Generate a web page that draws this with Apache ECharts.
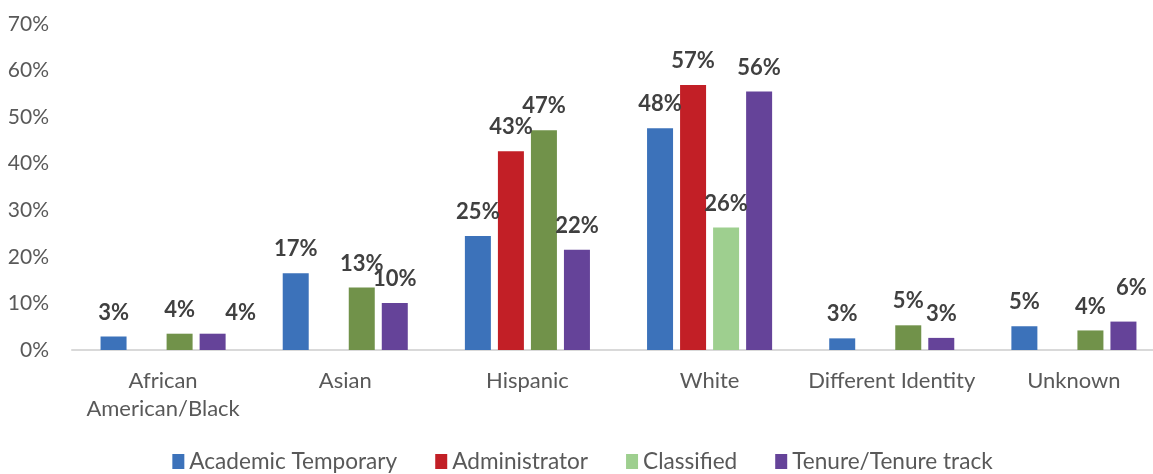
<!DOCTYPE html>
<html>
<head>
<meta charset="utf-8">
<script src="https://cdn.jsdelivr.net/npm/echarts@6/dist/echarts.min.js"></script>
<style>
  html, body { margin: 0; padding: 0; background: #fff; overflow: hidden; }
  #chart { width: 1165px; height: 474px; }
</style>
</head>
<body>
<div id="chart"></div>
<script>
// Share of each employee group by race/ethnicity (percent)
const categories = ['African\nAmerican/Black', 'Asian', 'Hispanic', 'White', 'Different Identity', 'Unknown'];
const academicTemporary = [2.9, 16.5, 24.5, 47.6, 2.5, 5.1];
const administrator = [null, null, 42.7, 56.9, null, null];
const classified = [3.5, 13.4, 47.2, 26.3, 5.3, 4.2];
const tenureTrack = [3.5, 10.1, 21.5, 55.5, 2.6, 6.1];
const yTicks = [0, 10, 20, 30, 40, 50, 60, 70];

const COLORS = {
  academic: '#3C72BA',
  admin: '#C21F26',
  classifiedLight: '#9ECF8F',
  classifiedDark: '#71924A',
  tenure: '#654399'
};

const FONT = 'Lato, "Open Sans", sans-serif';

function baseLabel() {
  return {
    show: true,
    position: 'top',
    distance: 13,
    fontFamily: FONT,
    fontSize: 22,
    fontWeight: 'bold',
    color: '#404040',
    formatter: p => Math.round(p.value) + '%'
  };
}

// Manually nudged label positions (category index -> [dx, dy])
const tenureLabelNudge = { 0: [28, 3], 5: [8, -10] };

function buildData(values, opts) {
  return values.map((v, i) => {
    const item = { value: v };
    if (opts && opts.colorAt) item.itemStyle = { color: opts.colorAt(i) };
    if (opts && opts.nudge && opts.nudge[i]) item.label = { offset: opts.nudge[i] };
    return item;
  });
}

const chart = echarts.init(document.getElementById('chart'), null, { renderer: 'canvas' });

chart.setOption({
  animation: false,
  backgroundColor: '#ffffff',
  grid: { left: 72, right: 0, top: 24, bottom: 124, containLabel: false },
  legend: {
    bottom: -4,
    left: 'center',
    itemWidth: 12,
    itemHeight: 15,
    itemGap: 38,
    icon: 'rect',
    textStyle: {
      fontFamily: FONT,
      fontSize: 22.6,
      color: '#595959'
    },
    data: ['Academic Temporary', 'Administrator', 'Classified', 'Tenure/Tenure track']
  },
  xAxis: {
    type: 'category',
    data: categories,
    axisTick: { show: false },
    axisLine: { lineStyle: { color: '#d9d9d9', width: 2 } },
    axisLabel: {
      interval: 0,
      margin: 17,
      fontFamily: FONT,
      fontSize: 22,
      lineHeight: 28,
      color: '#595959'
    }
  },
  yAxis: {
    type: 'value',
    min: yTicks[0],
    max: yTicks[yTicks.length - 1],
    interval: 10,
    splitLine: { show: false },
    axisLine: { show: false },
    axisTick: { show: false },
    axisLabel: {
      margin: 23,
      formatter: '{value}%',
      fontFamily: FONT,
      fontSize: 21,
      color: '#595959'
    }
  },
  series: [
    {
      name: 'Academic Temporary',
      type: 'bar',
      barWidth: 26,
      barGap: '27%',
      itemStyle: { color: COLORS.academic },
      label: baseLabel(),
      data: buildData(academicTemporary)
    },
    {
      name: 'Administrator',
      type: 'bar',
      barWidth: 26,
      barGap: '27%',
      itemStyle: { color: COLORS.admin },
      label: baseLabel(),
      data: buildData(administrator)
    },
    {
      name: 'Classified',
      type: 'bar',
      barWidth: 26,
      barGap: '27%',
      itemStyle: { color: COLORS.classifiedLight },
      label: baseLabel(),
      data: buildData(classified, {
        colorAt: i => categories[i] === 'White' ? COLORS.classifiedLight : COLORS.classifiedDark
      })
    },
    {
      name: 'Tenure/Tenure track',
      type: 'bar',
      barWidth: 26,
      barGap: '27%',
      itemStyle: { color: COLORS.tenure },
      label: baseLabel(),
      data: buildData(tenureTrack, { nudge: tenureLabelNudge })
    }
  ]
});
</script>
</body>
</html>
